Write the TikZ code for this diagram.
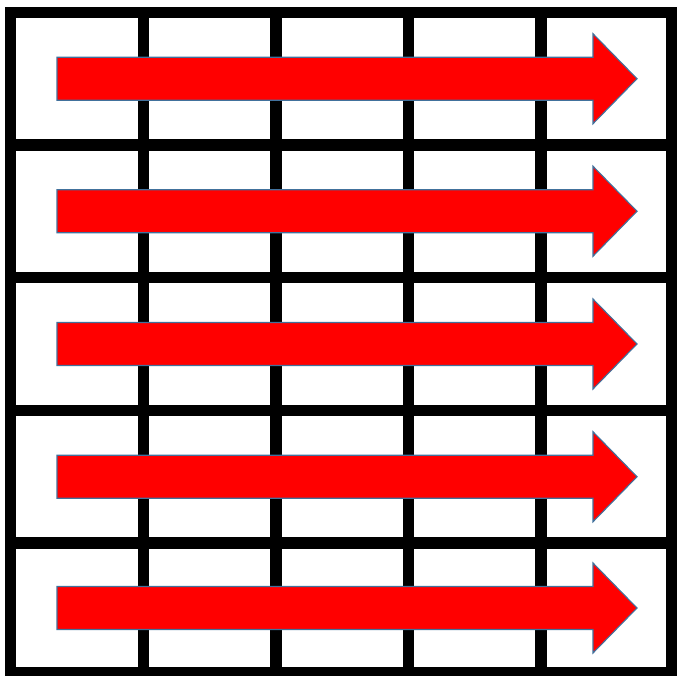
\documentclass[tikz,border=0pt]{standalone}
\usepackage{tikz}
\definecolor{arrowred}{RGB}{255,0,0}
\definecolor{arrowedge}{RGB}{65,113,156}
\tikzset{
  gridline/.style={line width=11.5pt, line cap=rect},
  rowarrow/.style={fill=arrowred, draw=arrowedge, line width=1.1pt, line join=miter},
}
\begin{document}
\begin{tikzpicture}[x=1pt,y=-1pt]
\useasboundingbox (0,0) rectangle (677,676);
\fill[white] (0,0) rectangle (677,676);
% grid
\foreach \x in {10.5,143.5,276,408.5,541,672}
  \draw[gridline] (\x,12.5) -- (\x,673);
\foreach \y in {12.5,145,277.5,410.5,543,673}
  \draw[gridline] (10.5,\y) -- (672,\y);
% arrows
\foreach \c in {78.75,211.25,344,476.75,608}
  \draw[rowarrow] (57,\c-21.5) -- (593,\c-21.5) -- (593,\c-45) -- (637,\c)
     -- (593,\c+45) -- (593,\c+21.5) -- (57,\c+21.5) -- cycle;
\end{tikzpicture}
\end{document}
